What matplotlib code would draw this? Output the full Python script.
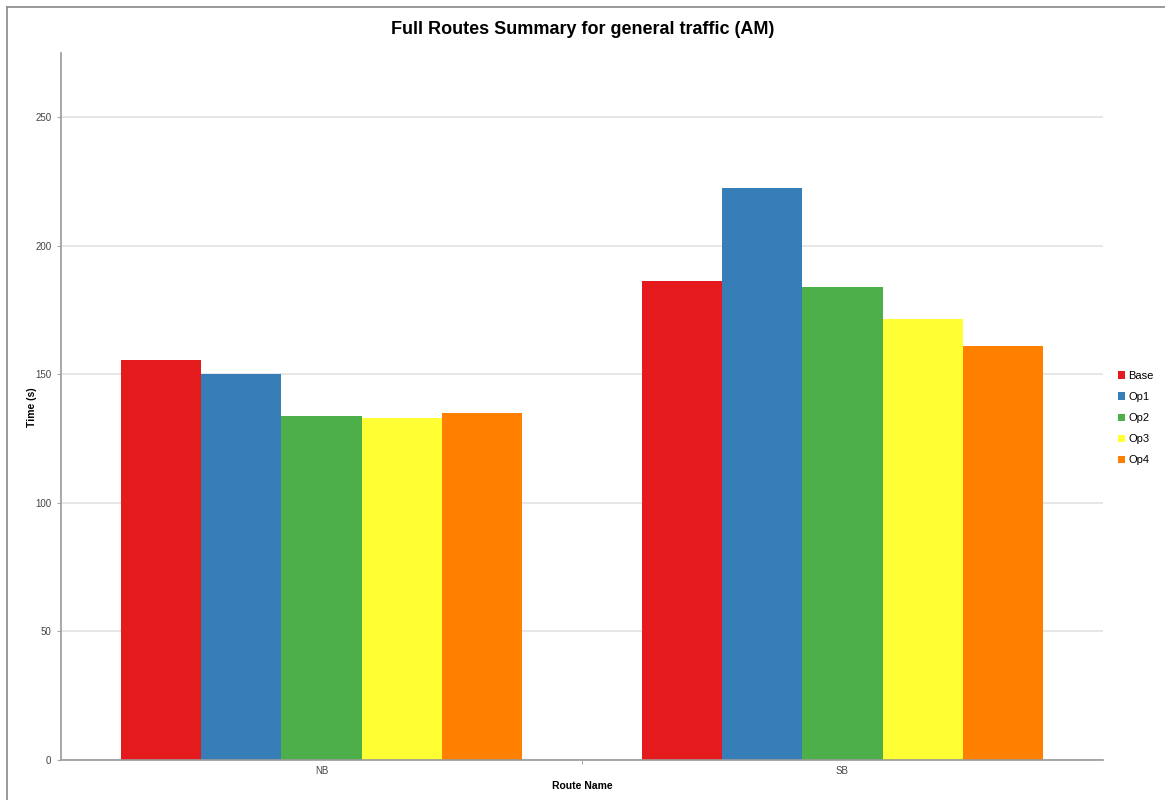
import numpy as np
import matplotlib
matplotlib.use("Agg")
import matplotlib.pyplot as plt
from matplotlib.patches import Patch
from matplotlib.lines import Line2D

plt.rcParams['font.family'] = ['Liberation Sans', 'DejaVu Sans']

routes = ["NB", "SB"]
series = ["Base", "Op1", "Op2", "Op3", "Op4"]
base = [155.6, 186.5]
op1 = [150.1, 222.3]
op2 = [133.7, 184.0]
op3 = [133.1, 171.6]
op4 = [134.9, 161.0]
values = [base, op1, op2, op3, op4]
colors = ["#E41A1C", "#377EB8", "#4DAF4A", "#FFFF33", "#FF7F00"]

fig = plt.figure(figsize=(11.65, 8), dpi=100)
ax = fig.add_axes([61/1165, 40/800, (1103-61)/1165, (760-53)/800])

x = np.arange(len(routes))
w = 0.1537
for i, (name, vals) in enumerate(zip(series, values)):
    ax.bar(x + (i - 2) * w, vals, w, color=colors[i], label=name, zorder=2)

ax.set_xlim(-0.5, 1.5)
ax.set_ylim(0, 275)
ax.set_yticks([0, 50, 100, 150, 200, 250])
ax.yaxis.grid(True, color="#e3e3e3", linewidth=1.2, zorder=0)
ax.set_axisbelow(True)

# category labels centred, ticks on the boundaries
ax.set_xticks([0.5])
ax.set_xticklabels([])
ax.set_xticks(x, minor=True)
ax.set_xticklabels(routes, minor=True)
ax.tick_params(axis="x", which="minor", length=0, pad=4, labelsize=7, labelcolor="#444444")
ax.tick_params(axis="x", which="major", length=3, color="#aaaaaa", direction="out")
ax.tick_params(axis="y", length=3, color="#aaaaaa", labelsize=7, labelcolor="#444444", pad=4)

for s in ["top", "right"]:
    ax.spines[s].set_visible(False)
for s in ["left", "bottom"]:
    ax.spines[s].set_color("#9a9a9a")
    ax.spines[s].set_linewidth(1.2)

ax.set_xlabel("Route Name", fontsize=7.5, fontweight="bold")
ax.set_ylabel("Time (s)", fontsize=7.5, fontweight="bold")
ax.xaxis.set_label_coords(0.5, (760-781)/707)
ax.yaxis.set_label_coords((37-61)/1042, (760-407)/707)

fig.suptitle("Full Routes Summary for general traffic (AM)", fontsize=13,
             fontweight="bold", y=(800-29)/800, va="center")

handles = [Patch(facecolor=c, edgecolor="none") for c in colors]
fig.legend(handles, series, loc="upper left", bbox_to_anchor=(1118/1165, (800-371)/800),
           frameon=False, fontsize=8, handlelength=0.65, handleheight=0.65,
           handletextpad=0.3, labelspacing=1.0, borderaxespad=0, borderpad=0)

# outer border (only top and left visible in the crop)
fig.add_artist(Line2D([7/1165, 1.0], [1-7/800, 1-7/800], transform=fig.transFigure,
                      color="#888888", linewidth=1.2))
fig.add_artist(Line2D([7/1165, 7/1165], [0.0, 1-7/800], transform=fig.transFigure,
                      color="#888888", linewidth=1.2))

fig.savefig("out.png", dpi=100, facecolor="white")
